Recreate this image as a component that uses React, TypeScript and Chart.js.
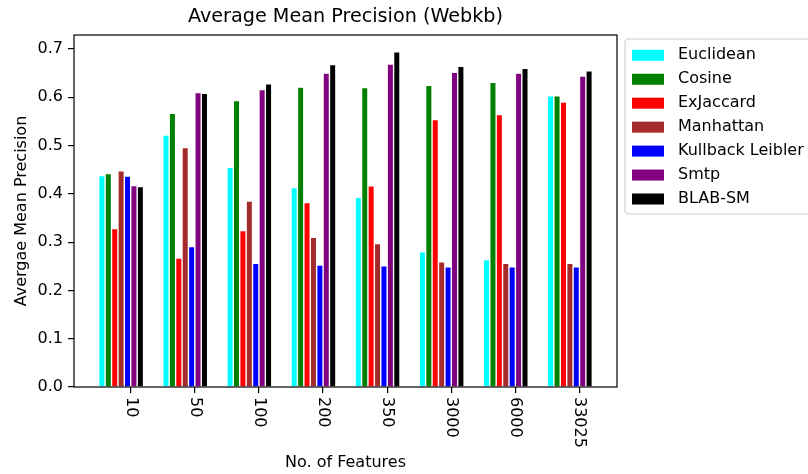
import React, { useEffect, useRef } from 'react';
import { Chart, registerables } from 'chart.js';

Chart.register(...registerables);

const categories = ['10', '50', '100', '200', '350', '3000', '6000', '33025'];
const seriesNames = ['Euclidean', 'Cosine', 'ExJaccard', 'Manhattan', 'Kullback Leibler', 'Smtp', 'BLAB-SM'];
const seriesColors = ['#00ffff', '#008000', '#ff0000', '#a52a2a', '#0000ff', '#800080', '#000000'];

const euclidean = [0.438, 0.522, 0.455, 0.413, 0.393, 0.28, 0.264, 0.603];
const cosine = [0.442, 0.567, 0.593, 0.621, 0.62, 0.625, 0.631, 0.603];
const exJaccard = [0.328, 0.267, 0.324, 0.382, 0.4165, 0.554, 0.564, 0.59];
const manhattan = [0.448, 0.496, 0.385, 0.31, 0.297, 0.2595, 0.256, 0.256];
const kullbackLeibler = [0.437, 0.291, 0.256, 0.2525, 0.251, 0.249, 0.249, 0.249];
const smtp = [0.417, 0.61, 0.616, 0.65, 0.669, 0.652, 0.65, 0.644];
const blabSm = [0.415, 0.6085, 0.628, 0.668, 0.694, 0.664, 0.66, 0.655];

const yTicks = [0, 0.1, 0.2, 0.3, 0.4, 0.5, 0.6, 0.7];
const titleText = 'Average Mean Precision (Webkb)';
const xTitle = 'No. of Features';
const yTitle = 'Avergae Mean Precision';

const FONT = '"DejaVu Sans", sans-serif';
const TICK_OFFSET = 0.15;

const seriesValues = [euclidean, cosine, exJaccard, manhattan, kullbackLeibler, smtp, blabSm];

const decorPlugin = {
  id: 'decor',
  afterDraw(chart: any) {
    const { ctx, chartArea } = chart;
    const { left, right, top, bottom } = chartArea;
    const xScale = chart.scales.x;
    ctx.save();
    // frame
    ctx.strokeStyle = '#000';
    ctx.lineWidth = 1.2;
    ctx.strokeRect(left, top, right - left, bottom - top);

    // title
    ctx.fillStyle = '#000';
    ctx.font = `19.2px ${FONT}`;
    ctx.textAlign = 'center';
    ctx.textBaseline = 'middle';
    ctx.fillText(titleText, (left + right) / 2, 17);

    // x tick labels rotated clockwise
    ctx.font = `16px ${FONT}`;
    categories.forEach((c, i) => {
      const px = xScale.getPixelForValue(i + TICK_OFFSET);
      ctx.save();
      ctx.translate(px, 397);
      ctx.rotate(Math.PI / 2);
      ctx.textAlign = 'left';
      ctx.textBaseline = 'alphabetic';
      ctx.fillText(c, 0, 4);
      ctx.restore();
    });

    // x axis title
    ctx.textAlign = 'center';
    ctx.textBaseline = 'middle';
    ctx.fillText(xTitle, (left + right) / 2, 463);

    // y axis title
    ctx.save();
    ctx.translate(22, (top + bottom) / 2);
    ctx.rotate(-Math.PI / 2);
    ctx.textAlign = 'center';
    ctx.textBaseline = 'middle';
    ctx.fillText(yTitle, 0, 0);
    ctx.restore();

    // legend
    const lx = 625;
    const ly = 39;
    const lh = 175;
    ctx.fillStyle = 'rgba(255,255,255,0.8)';
    ctx.strokeStyle = '#cccccc';
    ctx.lineWidth = 1;
    const r = 3;
    const lw = 200;
    ctx.beginPath();
    ctx.moveTo(lx + r, ly);
    ctx.lineTo(lx + lw - r, ly);
    ctx.arcTo(lx + lw, ly, lx + lw, ly + r, r);
    ctx.lineTo(lx + lw, ly + lh - r);
    ctx.arcTo(lx + lw, ly + lh, lx + lw - r, ly + lh, r);
    ctx.lineTo(lx + r, ly + lh);
    ctx.arcTo(lx, ly + lh, lx, ly + lh - r, r);
    ctx.lineTo(lx, ly + r);
    ctx.arcTo(lx, ly, lx + r, ly, r);
    ctx.closePath();
    ctx.fill();
    ctx.stroke();

    chart.data.datasets.forEach((ds: any, i: number) => {
      const cy = 55.3 + i * 23.95;
      ctx.fillStyle = ds.backgroundColor;
      ctx.fillRect(632, cy - 5.5, 32, 11);
      ctx.fillStyle = '#000';
      ctx.font = `16px ${FONT}`;
      ctx.textAlign = 'left';
      ctx.textBaseline = 'middle';
      ctx.fillText(ds.label, 678, cy);
    });
    ctx.restore();
  },
};

export default function App() {
  const canvasRef = useRef<HTMLCanvasElement | null>(null);

  useEffect(() => {
    const canvas = canvasRef.current;
    if (!canvas) return;
    const datasets = seriesNames.map((name, si) => ({
      label: name,
      data: seriesValues[si].map((v, i) => ({ x: i, y: v })),
      backgroundColor: seriesColors[si],
      borderColor: 'rgba(255,255,255,0.7)',
      borderWidth: 0.7,
      categoryPercentage: 0.7,
      barPercentage: 1.0,
    }));

    const chart = new Chart(canvas, {
      type: 'bar',
      data: { datasets },
      plugins: [decorPlugin],
      options: {
        animation: false,
        responsive: false,
        devicePixelRatio: 1,
        layout: { padding: { top: 35, right: 191, left: 0, bottom: 0 } },
        plugins: {
          legend: { display: false },
          title: { display: false },
          tooltip: { enabled: false },
        },
        scales: {
          x: {
            type: 'linear',
            min: -0.735,
            max: 7.735,
            offset: false,
            border: { display: false },
            grid: {
              display: true,
              offset: false,
              drawOnChartArea: false,
              drawTicks: true,
              tickLength: 6,
              color: '#000',
              lineWidth: 1.2,
            },
            ticks: { display: false },
            afterBuildTicks: (scale: any) => {
              scale.ticks = categories.map((_, i) => ({ value: i + TICK_OFFSET }));
            },
            afterFit: (scale: any) => {
              scale.height = 87;
            },
          },
          y: {
            type: 'linear',
            min: 0,
            max: 0.729,
            border: { display: false },
            grid: {
              display: true,
              offset: false,
              drawOnChartArea: false,
              drawTicks: true,
              tickLength: 6,
              color: '#000',
              lineWidth: 1.2,
            },
            ticks: {
              color: '#000',
              padding: 5,
              font: { family: FONT, size: 16 },
              callback: (v: any) => Number(v).toFixed(1),
            },
            afterBuildTicks: (scale: any) => {
              scale.ticks = yTicks.map((v) => ({ value: v }));
            },
            afterFit: (scale: any) => {
              scale.width = 74;
            },
          },
        },
      } as any,
    });
    return () => chart.destroy();
  }, []);

  return (
    <div style={{ position: 'fixed', left: 0, top: 0, width: 808, height: 474, background: '#fff' }}>
      <canvas ref={canvasRef} width={808} height={474} />
    </div>
  );
}
